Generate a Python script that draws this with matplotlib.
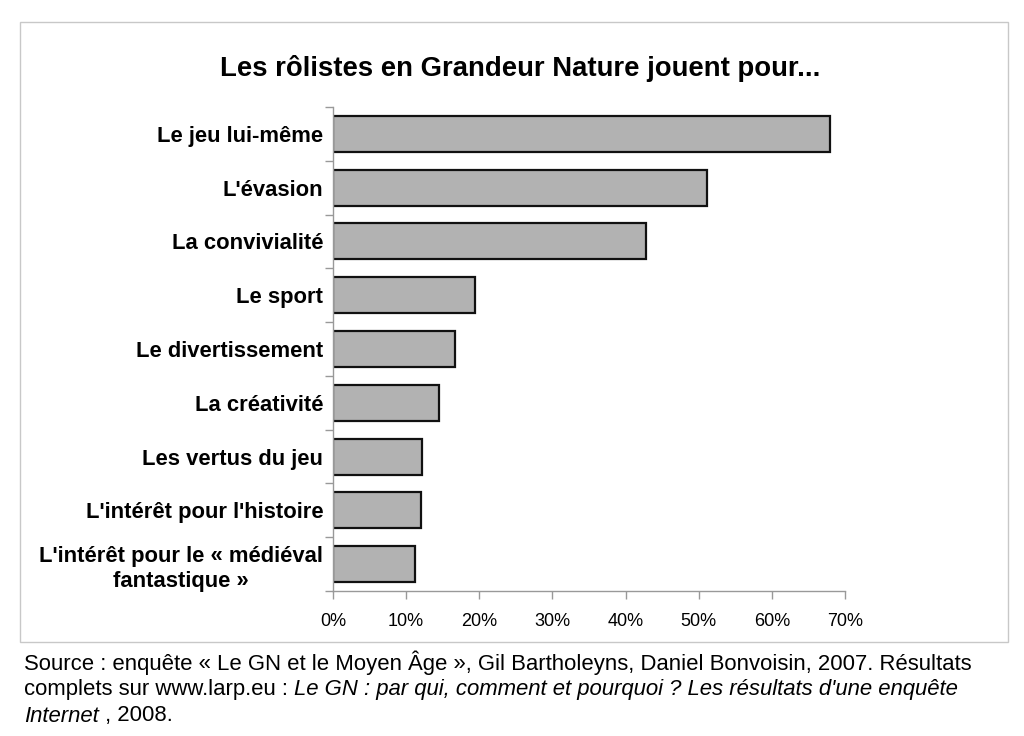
import matplotlib
matplotlib.use("Agg")
import matplotlib.pyplot as plt
from matplotlib.patches import Rectangle
import numpy as np

plt.rcParams['font.family'] = ['Liberation Sans', 'DejaVu Sans']

categories = [
    "Le jeu lui-même",
    "L'évasion",
    "La convivialité",
    "Le sport",
    "Le divertissement",
    "La créativité",
    "Les vertus du jeu",
    "L'intérêt pour l'histoire",
    "L'intérêt pour le « médiéval\nfantastique »",
]
values = [67.9, 51.2, 42.8, 19.4, 16.7, 14.5, 12.2, 12.0, 11.2]
xticks = [0, 10, 20, 30, 40, 50, 60, 70]
xticklabels = ["0%", "10%", "20%", "30%", "40%", "50%", "60%", "70%"]
title = "Les rôlistes en Grandeur Nature jouent pour..."

W, H = 1024, 736
fig = plt.figure(figsize=(W / 100, H / 100), dpi=100)
fig.patch.set_facecolor("white")

# outer frame
fig.patches.append(Rectangle((20 / W, 1 - 642 / H), (1008 - 20) / W, (642 - 22) / H,
                             transform=fig.transFigure, fill=False,
                             edgecolor="#c8c8c8", linewidth=1.0))

ax = fig.add_axes([333 / W, 1 - 591 / H, (845 - 333) / W, (591 - 107) / H])
y = np.arange(len(categories))
ax.barh(y, values, height=0.67, color="#b2b2b2", edgecolor="#111111", linewidth=1.6)
ax.set_ylim(len(categories) - 0.5, -0.5)
ax.set_xlim(0, 70)

ax.set_yticks(y)
ax.set_yticklabels(categories, fontsize=15.8, fontweight="bold", multialignment="center",
                   linespacing=1.25)
ax.tick_params(axis="y", length=0, pad=7)
ax.set_yticks(np.arange(-0.5, len(categories), 1.0), minor=True)
ax.tick_params(axis="y", which="minor", length=6, color="#999999", width=1)

ax.set_xticks(xticks)
ax.set_xticklabels(xticklabels, fontsize=13)
ax.tick_params(axis="x", length=6, color="#999999", width=1, pad=10)

for s in ["top", "right"]:
    ax.spines[s].set_visible(False)
for s in ["left", "bottom"]:
    ax.spines[s].set_color("#999999")
    ax.spines[s].set_linewidth(1)

fig.text(520 / W, 1 - 68 / H, title, ha="center", va="center",
         fontsize=19.8, fontweight="bold")

fs = 15.9
fig.text(24 / W, 1 - 663 / H,
         "Source : enquête « Le GN et le Moyen Âge », Gil Bartholeyns, Daniel Bonvoisin, 2007. Résultats",
         ha="left", va="center", fontsize=fs)
t1 = fig.text(24 / W, 1 - 690 / H, "complets sur www.larp.eu : ", ha="left", va="center", fontsize=fs)
fig.canvas.draw()
bb = t1.get_window_extent()
fig.text(bb.x1 / W, 1 - 690 / H,
         "Le GN : par qui, comment et pourquoi ? Les résultats d'une enquête",
         ha="left", va="center", fontsize=fs, style="italic")
t3 = fig.text(24 / W, 1 - 716 / H, "Internet", ha="left", va="center", fontsize=fs, style="italic")
fig.canvas.draw()
bb3 = t3.get_window_extent()
fig.text(bb3.x1 / W, 1 - 716 / H, " , 2008.", ha="left", va="center", fontsize=fs)

fig.savefig("out.png", dpi=100, facecolor="white")
